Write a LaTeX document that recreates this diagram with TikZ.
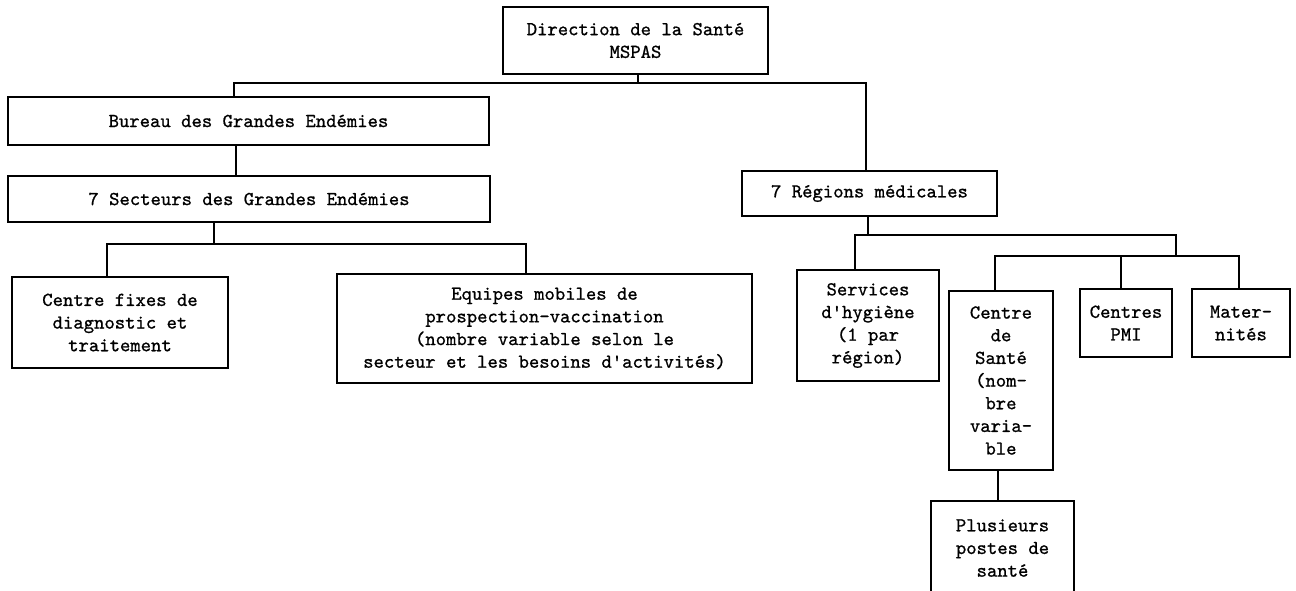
\documentclass[tikz,border=0pt]{standalone}
\usepackage{fontspec}
\newfontfamily\twfont{lmmono10-regular.otf}[FakeBold=0.9]
\begin{document}
\begin{tikzpicture}[x=0.75pt,y=-0.75pt,
  box/.style={draw, line width=1.4pt, inner sep=0pt, align=center,
    font=\twfont\fontsize{14.8}{17}\selectfont},
  bx/.style 2 args={minimum width=#1*0.75pt, minimum height=#2*0.75pt},
  link/.style={line width=1.4pt}]
\useasboundingbox (0,0) rectangle (1296,590);
\fill[white] (0,0) rectangle (1296,590);

% boxes
\node[box, bx={265}{67}] (top) at (635.5,40.5) {Direction de la Santé\\MSPAS};
\node[box, bx={481}{48}] (bureau) at (248.5,121) {Bureau des Grandes Endémies};
\node[box, bx={482}{46}] (secteurs) at (249,199) {7 Secteurs des Grandes Endémies};
\node[box, bx={216}{91}] (fixes) at (120,322.5) {Centre fixes de\\diagnostic et\\traitement};
\node[box, bx={415}{109}] (equipes) at (544.5,328.5) {Equipes mobiles de\\prospection-vaccination\\(nombre variable selon le\\secteur et les besoins d'activités)};
\node[box, bx={255}{45}] (regions) at (869.5,193.5) {7 Régions médicales};
\node[box, bx={142}{111}] (hygiene) at (868,325.5) {Services\\d'hygiène\\(1 par\\région)};
\node[box, bx={104}{179}] (sante) at (1001,380.5) {Centre\\de\\Santé\\(nom-\\bre\\varia-\\ble};
\node[box, bx={92}{68}] (pmi) at (1126,323) {Centres\\PMI};
\node[box, bx={98}{68}] (mater) at (1241,323) {Mater-\\nités};
\node[box, bx={143}{94}] (postes) at (1002.5,548) {Plusieurs\\postes de\\santé};

% junction points
\coordinate (h1l) at (234,83);
\coordinate (h1c) at (638,83);
\coordinate (h1r) at (866,83);
\coordinate (bs) at (236,0);
\coordinate (h2c) at (214,244);
\coordinate (h2l) at (107,244);
\coordinate (h2r) at (526,244);
\coordinate (h3c) at (868,235);
\coordinate (h3l) at (855,235);
\coordinate (h3r) at (1176,235);
\coordinate (h4c) at (1176,256);
\coordinate (h4l) at (995,256);
\coordinate (h4m) at (1121,256);
\coordinate (h4r) at (1239,256);
\coordinate (sp) at (998,0);

% connectors
\draw[link] (top.south -| h1c) -- (h1c);
\draw[link] (bureau.north -| h1l) -- (h1l) -- (h1r) -- (regions.north -| h1r);
\draw[link] (bureau.south -| bs) -- (secteurs.north -| bs);
\draw[link] (secteurs.south -| h2c) -- (h2c);
\draw[link] (fixes.north -| h2l) -- (h2l) -- (h2r) -- (equipes.north -| h2r);
\draw[link] (regions.south -| h3c) -- (h3c);
\draw[link] (hygiene.north -| h3l) -- (h3l) -- (h3r) -- (h4c);
\draw[link] (sante.north -| h4l) -- (h4l) -- (h4r) -- (mater.north -| h4r);
\draw[link] (h4m) -- (pmi.north -| h4m);
\draw[link] (sante.south -| sp) -- (postes.north -| sp);
\end{tikzpicture}
\end{document}
